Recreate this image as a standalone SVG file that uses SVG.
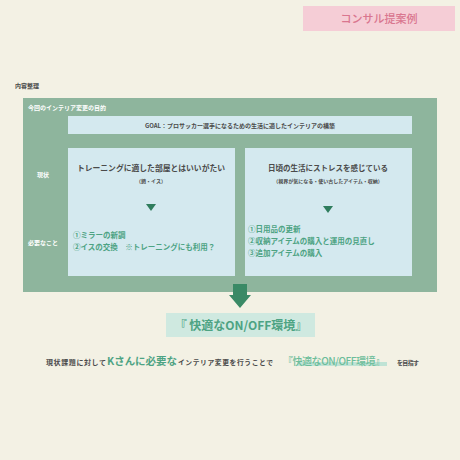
<svg xmlns="http://www.w3.org/2000/svg" width="460" height="460" viewBox="0 0 460 460">
<style>
text{font-family:"Noto Sans CJK JP","Noto Sans",sans-serif;}
.w{fill:#ffffff;font-weight:bold;font-size:6px;}
.d{fill:#4a4a4a;font-weight:bold;}
.g{fill:#4da383;font-weight:bold;}
.box{fill:#d4e9ef;}
.tri{fill:#2f7d5d;}
</style>
<rect x="0" y="0" width="460" height="460" fill="#f3f1e4"/>
<g id="tag">
<rect x="303" y="6" width="152" height="25" fill="#f5cdd6"/>
<text x="379" y="22.5" font-size="11" fill="#d9768f" text-anchor="middle" font-weight="500">コンサル提案例</text>
</g>
<text x="15" y="88" class="d" font-size="6">内容整理</text>
<g id="panel">
<rect x="23" y="98" width="414" height="194" fill="#8eb59d"/>
<text x="28" y="110" class="w">今回のインテリア変更の目的</text>
<text x="37" y="177" class="w">現状</text>
<text x="28" y="245" class="w">必要なこと</text>
</g>
<g id="goal">
<rect x="68" y="116" width="344" height="18" class="box"/>
<text x="240" y="128" class="d" font-size="6" text-anchor="middle">GOAL：プロサッカー選手になるための生活に適したインテリアの構築</text>
</g>
<g id="left">
<rect x="68" y="148" width="167" height="128" class="box"/>
<text x="151" y="171" class="d" font-size="7.8" text-anchor="middle">トレーニングに適した部屋とはいいがたい</text>
<text x="151" y="183" class="d" font-size="5" text-anchor="middle">（鏡・イス）</text>
<polygon points="146,204 156,204 151,211" class="tri"/>
<text x="73" y="238" class="g" font-size="7.5">①ミラーの新調</text>
<text x="73" y="250" class="g" font-size="7.5">②イスの交換　※トレーニングにも利用？</text>
</g>
<g id="right">
<rect x="245" y="148" width="167" height="128" class="box"/>
<text x="328" y="171" class="d" font-size="7.5" text-anchor="middle">日頃の生活にストレスを感じている</text>
<text x="328" y="183" class="d" font-size="5" text-anchor="middle">（視界が気になる・使い古したアイテム・収納）</text>
<polygon points="323,206 333,206 328,213" class="tri"/>
<text x="248" y="232" class="g" font-size="7.5">①日用品の更新</text>
<text x="248" y="244" class="g" font-size="7.5">②収納アイテムの購入と運用の見直し</text>
<text x="248" y="256" class="g" font-size="7.5">③追加アイテムの購入</text>
</g>
<g id="connectors">
<polygon points="233,284 247,284 247,295 251,295 240,308 229,295 233,295" fill="#3a8a66"/>
</g>
<g id="result">
<rect x="166" y="313" width="149" height="24" fill="#cfe9e0"/>
<text x="241" y="330" class="g" font-size="12" text-anchor="middle" font-weight="500">『 快適なON/OFF環境』</text>
</g>
<g id="summary">
<rect x="297" y="362" width="90" height="4" fill="#bfe3d5"/>
<text x="46" y="365" font-size="7" class="d" textLength="60">現状課題に対して</text>
<text x="107" y="365" font-size="10.5" class="g" font-weight="500" textLength="70">Kさんに必要な</text>
<text x="178" y="365" font-size="6.8" class="d" textLength="95">インテリア変更を行うことで</text>
<text x="283" y="365" font-size="10" fill="#6cbd9a" font-weight="500" textLength="102">『快適なON/OFF環境』</text>
<text x="397" y="365" font-size="6" class="d" textLength="22">を目指す</text>
</g>
</svg>
